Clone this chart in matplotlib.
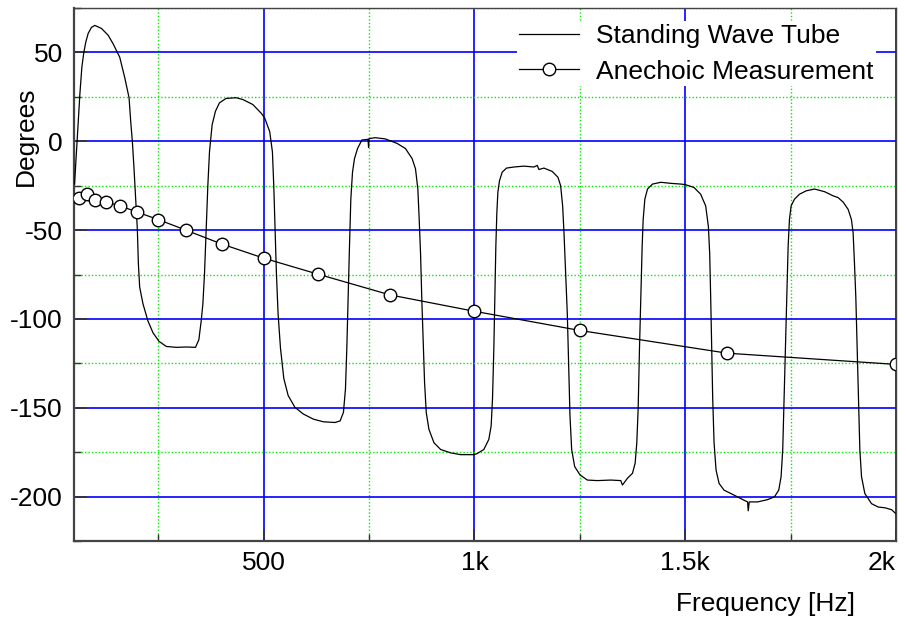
import matplotlib
matplotlib.use("Agg")
import matplotlib.pyplot as plt
from matplotlib.ticker import MultipleLocator

plt.rcParams["font.family"] = ["Liberation Sans", "DejaVu Sans"]
plt.rcParams["axes.unicode_minus"] = False

# Standing wave tube phase as (Hz, degrees)
tube_points = [
    (51.3, -24.1), (57.6, 1.6), (63.9, 26.4), (68.6, 41.6), (73.3, 50.0),
    (78.1, 55.9), (83.6, 60.7), (91.5, 64.1), (99.4, 65.2), (115.1, 63.5),
    (130.9, 59.7), (142.7, 54.9), (150.6, 51.1), (158.5, 47.3), (170.3, 35.9),
    (180.6, 24.5), (184.5, 11.2), (188.5, -0.3), (192.4, -15.5), (196.4, -32.6),
    (200.3, -49.8), (202.7, -68.8), (205.8, -82.1), (213.7, -91.6),
    (225.5, -101.2), (237.4, -107.8), (251.6, -112.6), (268.9, -115.5),
    (292.6, -116.0), (316.2, -115.8), (338.3, -116.0), (346.2, -111.7),
    (351.7, -101.2), (355.7, -91.6), (359.6, -74.5), (363.5, -49.8),
    (367.5, -25.0), (371.4, -6.0), (377.7, 9.3), (385.6, 16.9), (395.0, 21.6),
    (410.8, 24.1), (434.5, 24.5), (450.3, 23.5), (474.0, 20.7), (493.7, 15.9),
    (502.4, 13.1), (514.3, 5.4), (520.7, -6.0), (523.9, -25.0), (527.0, -49.8),
    (530.2, -74.5), (534.2, -97.4), (539.8, -116.4), (547.7, -133.5),
    (558.0, -143.1), (573.9, -149.7), (593.8, -153.5), (617.7, -156.4),
    (641.5, -157.9), (669.3, -158.3), (681.3, -157.4), (689.2, -152.6),
    (694.0, -139.3), (697.2, -116.4), (700.3, -87.9), (703.5, -59.3),
    (706.7, -32.6), (710.7, -17.4), (715.4, -9.8), (722.6, -4.1), (732.9, 0.7),
    (747.5, 1.1), (748.8, -3.5), (750.0, 1.5), (764.7, 2.0), (788.6, 1.3),
    (816.4, -1.2), (836.3, -4.1), (852.2, -9.8), (860.1, -15.5), (865.7, -26.9),
    (868.9, -44.1), (872.1, -63.1), (875.2, -89.8), (878.4, -112.6),
    (881.6, -135.5), (885.6, -152.6), (891.9, -162.1), (903.9, -169.7),
    (919.8, -173.5), (943.6, -175.4), (967.5, -176.4), (999.3, -176.4),
    (1006.3, -175.8), (1022.2, -173.5), (1034.1, -167.8), (1039.6, -160.2),
    (1042.8, -145.0), (1046.0, -116.4), (1048.3, -87.9), (1050.7, -59.3),
    (1053.1, -40.3), (1055.5, -28.8), (1059.4, -22.2), (1065.8, -17.4),
    (1076.1, -15.1), (1093.5, -14.5), (1117.3, -14.0), (1141.0, -14.5),
    (1149.0, -13.6), (1152.9, -15.9), (1164.8, -15.1), (1184.6, -17.0),
    (1198.1, -20.3), (1204.4, -25.0), (1209.2, -36.4), (1212.4, -51.7),
    (1216.3, -74.5), (1220.3, -97.4), (1223.5, -125.9), (1226.6, -154.5),
    (1230.6, -173.5), (1237.7, -183.1), (1250.4, -187.8), (1267.8, -190.7),
    (1291.6, -191.0), (1323.3, -190.7), (1347.1, -191.0), (1351.0, -193.5),
    (1362.9, -189.7), (1374.8, -186.9), (1381.2, -181.2), (1385.1, -169.7),
    (1388.3, -150.7), (1391.5, -116.4), (1394.6, -87.9), (1397.8, -59.3),
    (1400.2, -44.1), (1404.2, -32.6), (1410.5, -26.9), (1422.4, -24.1),
    (1442.2, -23.1), (1465.9, -23.7), (1489.7, -24.1),
    (1500.0, -24.4), (1520.7, -26.0), (1536.6, -29.8), (1548.5, -36.4),
    (1554.9, -47.9), (1558.0, -63.1), (1560.4, -87.9), (1562.8, -116.4),
    (1565.2, -145.0), (1568.4, -169.7), (1573.1, -185.0), (1580.3, -192.6),
    (1592.2, -196.4), (1616.1, -199.2), (1639.9, -202.1), (1647.9, -203.0),
    (1649.5, -208.0), (1651.8, -203.0), (1671.7, -203.0), (1695.6, -201.7),
    (1711.5, -200.2), (1721.8, -196.4), (1727.4, -188.8), (1731.3, -173.5),
    (1734.5, -145.0), (1737.7, -116.4), (1740.9, -87.9), (1744.1, -59.3),
    (1747.2, -44.1), (1751.2, -36.4), (1759.2, -32.6), (1771.1, -29.8),
    (1787.0, -27.9), (1806.9, -26.9), (1830.7, -28.4), (1850.6, -30.7),
    (1862.5, -31.7), (1874.4, -34.2), (1886.4, -38.3), (1894.3, -44.1),
    (1898.3, -51.7), (1901.5, -68.8), (1904.7, -87.9), (1907.8, -116.4),
    (1911.0, -145.0), (1914.2, -173.5), (1918.2, -188.8), (1926.1, -198.3),
    (1942.0, -204.0), (1957.9, -205.9), (1973.8, -206.3), (1989.7, -207.4),
    (2000.0, -209.7),
]
tube_freq = [p[0] for p in tube_points]
tube_deg = [p[1] for p in tube_points]

# Anechoic measurement (third-octave bands)
anech_freq = [63, 80, 100, 125, 160, 200, 250, 315, 400, 500, 630, 800,
              1000, 1250, 1600, 2000]
anech_deg = [-31.7, -29.8, -33.2, -34.2, -36.4, -39.9, -44.1, -50.0, -57.8,
             -65.8, -74.9, -86.5, -95.7, -106.5, -119.3, -125.6]

xticks = [500, 1000, 1500, 2000]
xticklabels = ["500", "1k", "1.5k", "2k"]

fig = plt.figure(figsize=(9.06, 6.21), dpi=100)
ax = fig.add_axes([74 / 906, 1 - 541 / 621, 822 / 906, 533 / 621])

ax.plot(tube_freq, tube_deg, color="black", lw=0.9, label="Standing Wave Tube", zorder=3)
ax.plot(anech_freq, anech_deg, color="black", lw=0.9, marker="o", ms=9,
        mfc="white", mec="black", mew=1.0, label="Anechoic Measurement", zorder=4)

ax.set_xlim(50, 2000)
ax.set_ylim(-225, 75)
ax.set_xticks(xticks)
ax.set_xticklabels(xticklabels)
ax.xaxis.set_minor_locator(MultipleLocator(250))
ax.yaxis.set_major_locator(MultipleLocator(50))
ax.yaxis.set_minor_locator(MultipleLocator(25))

ax.grid(which="major", color="#0000ff", lw=1.2, ls="-")
ax.grid(which="minor", color="#00ee00", lw=1.0, ls=(0, (1, 1.5)))
ax.set_axisbelow(True)

ax.tick_params(which="major", direction="in", length=9, width=1.2,
               colors="#333333", labelcolor="black", labelsize=19, pad=8)
ax.tick_params(which="minor", direction="in", length=5, width=1.0, colors="#333333")
ax.tick_params(axis="x", pad=7)
for s in ["left", "bottom"]:
    ax.spines[s].set_linewidth(1.6)
    ax.spines[s].set_color("#444444")
for s in ["top", "right"]:
    ax.spines[s].set_linewidth(1.0)
    ax.spines[s].set_color("#444444")
    ax.spines[s].set_zorder(6)

lbls = ax.get_xticklabels()
lbls[-1].set_horizontalalignment("right")

ax.set_ylabel("Degrees", fontsize=19)
ax.yaxis.set_label_coords(-0.044, 0.76)
fig.text(765 / 906, 1 - 604 / 621, "Frequency [Hz]", fontsize=19,
         ha="center", va="center")

leg = ax.legend(loc="upper right", bbox_to_anchor=(0.992, 1.0), fontsize=19,
                frameon=True, fancybox=False, framealpha=1, edgecolor="none",
                handlelength=2.27, handletextpad=0.64, labelspacing=0.45,
                borderpad=0.1)
leg.set_zorder(5)

fig.savefig("out.png", dpi=100)
